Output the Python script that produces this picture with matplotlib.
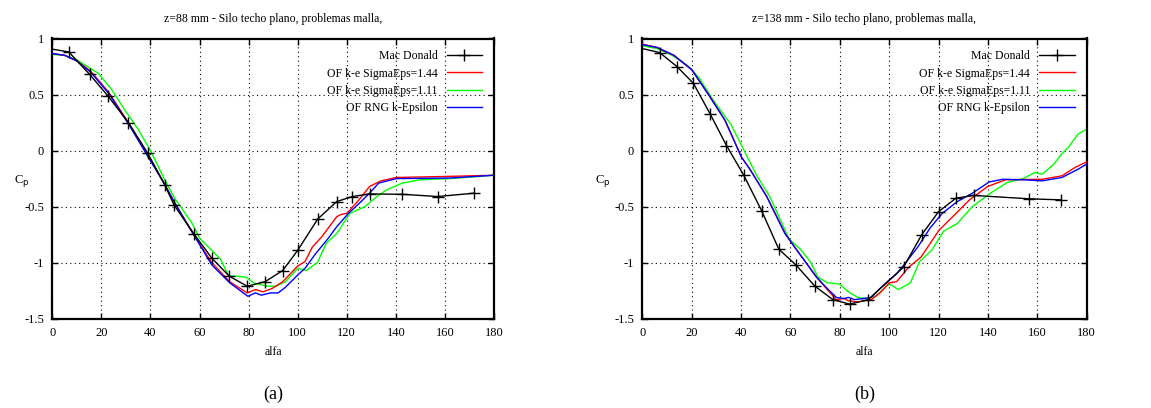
import matplotlib
matplotlib.use("Agg")
import matplotlib.pyplot as plt

plt.rcParams['font.family'] = ['Liberation Serif', 'DejaVu Serif']

# ---------------- data: panel (a) z=88 mm ----------------
a_mac_x = [0, 6.7, 15.2, 22.6, 31, 38.8, 45.9, 49.6, 57.6, 65, 72.1, 79.4, 86.7, 93.9, 100, 108.2, 115.9, 122.3, 129.3, 142.7, 157, 172]
a_mac_y = [0.905, 0.88, 0.68, 0.49, 0.25, -0.02, -0.31, -0.485, -0.74, -0.96, -1.12, -1.21, -1.17, -1.07, -0.89, -0.61, -0.455, -0.41, -0.387, -0.39, -0.41, -0.38]

a_red_x = [0, 5, 10, 15.6, 23, 31, 39.4, 45, 50, 57.6, 65, 72.3, 79.4, 82.8, 85.9, 89.6, 93.9, 100, 103, 106, 109.8, 115.9, 117.7, 120, 124.4, 129.3, 134, 140.2, 162, 180]
a_red_y = [0.866, 0.85, 0.80, 0.71, 0.52, 0.25, -0.06, -0.27, -0.47, -0.75, -1.0, -1.17, -1.27, -1.24, -1.26, -1.23, -1.17, -1.03, -0.99, -0.86, -0.77, -0.59, -0.57, -0.56, -0.455, -0.32, -0.27, -0.24, -0.23, -0.22]

a_grn_x = [0, 5, 10, 18.7, 24, 29.6, 35, 40, 46, 50, 57, 60, 64, 68.6, 71.9, 75, 79, 82, 87.6, 91.2, 95, 100, 103.6, 108, 111.6, 115.9, 121.3, 127.4, 132.3, 136.6, 142.7, 150, 162, 180]
a_grn_y = [0.857, 0.85, 0.81, 0.69, 0.55, 0.36, 0.19, 0.0, -0.27, -0.43, -0.65, -0.78, -0.87, -0.97, -1.12, -1.12, -1.13, -1.18, -1.21, -1.21, -1.17, -1.05, -1.07, -1.0, -0.83, -0.74, -0.56, -0.5, -0.41, -0.345, -0.29, -0.26, -0.25, -0.22]

a_blu_x = [0, 5, 10, 15.6, 23, 31, 39.4, 45, 50, 57.6, 65, 72.3, 79.7, 82.8, 85.2, 88.9, 92, 95, 100, 103, 107.3, 112.2, 115.9, 120.7, 124.4, 129.3, 133, 140.2, 162, 180]
a_blu_y = [0.866, 0.85, 0.80, 0.70, 0.51, 0.24, -0.07, -0.27, -0.47, -0.75, -1.02, -1.18, -1.30, -1.27, -1.29, -1.27, -1.27, -1.22, -1.11, -1.05, -0.92, -0.79, -0.68, -0.56, -0.485, -0.38, -0.29, -0.25, -0.245, -0.22]

# ---------------- data: panel (b) z=138 mm ----------------
b_mac_x = [0, 7, 14, 20.7, 27.4, 34.1, 41.1, 48.3, 55.3, 62.2, 69.9, 77.2, 84, 91.5, 105.8, 113.2, 120, 127, 134.2, 156.5, 169.7]
b_mac_y = [0.91, 0.875, 0.75, 0.60, 0.33, 0.045, -0.22, -0.535, -0.88, -1.02, -1.21, -1.33, -1.37, -1.33, -1.04, -0.75, -0.545, -0.425, -0.40, -0.43, -0.44]

b_red_x = [0, 6, 12.8, 20.1, 27.4, 33.5, 40.2, 43.7, 50.4, 57.8, 62, 66.3, 70.6, 74.9, 78.6, 81.7, 83.5, 87.2, 92.7, 96.3, 100, 103, 107.9, 112.9, 120.2, 126.4, 132.5, 139.9, 147.2, 162, 170, 175.3, 180]
b_red_y = [0.95, 0.92, 0.85, 0.72, 0.48, 0.27, -0.06, -0.17, -0.41, -0.74, -0.87, -1.0, -1.13, -1.24, -1.33, -1.32, -1.34, -1.35, -1.33, -1.27, -1.18, -1.17, -1.04, -0.95, -0.71, -0.575, -0.44, -0.32, -0.26, -0.256, -0.225, -0.15, -0.10]

b_grn_x = [0, 6, 12, 18.3, 23, 28.7, 36, 40.9, 46.3, 51.6, 59.5, 64, 68, 71.2, 74.9, 79.8, 83.5, 87.2, 90.8, 94.5, 100, 103.7, 108.6, 112.3, 117.2, 122, 127.6, 133.7, 141, 147.8, 154.6, 158.9, 162, 166.5, 169.9, 172.6, 176.6, 180]
b_grn_y = [0.935, 0.91, 0.85, 0.76, 0.65, 0.45, 0.23, 0.015, -0.22, -0.41, -0.79, -0.88, -0.99, -1.13, -1.18, -1.19, -1.26, -1.31, -1.32, -1.30, -1.19, -1.24, -1.18, -0.99, -0.89, -0.72, -0.65, -0.5, -0.38, -0.285, -0.247, -0.196, -0.21, -0.125, -0.03, 0.03, 0.15, 0.19]

b_blu_x = [0, 6, 12.8, 20.1, 27.4, 33.5, 40.2, 43.7, 50.4, 57.8, 62, 66.3, 70.6, 74.9, 78.6, 81.7, 83.5, 86, 89.6, 92.7, 96.3, 100, 103, 106.7, 111.6, 116.6, 121.5, 127.6, 133.7, 140.5, 146, 155.8, 162, 170, 176.6, 180]
b_blu_y = [0.946, 0.92, 0.85, 0.72, 0.48, 0.27, -0.06, -0.17, -0.41, -0.74, -0.87, -1.0, -1.13, -1.23, -1.31, -1.32, -1.31, -1.33, -1.32, -1.31, -1.23, -1.155, -1.10, -1.0, -0.86, -0.69, -0.56, -0.455, -0.38, -0.28, -0.256, -0.262, -0.27, -0.24, -0.165, -0.12]

titles = ["z=88 mm - Silo techo plano, problemas malla,",
          "z=138 mm - Silo techo plano, problemas malla,"]
sub_labels = ["(a)", "(b)"]
labels = ["Mac Donald", "OF k-e SigmaEps=1.44", "OF k-e SigmaEps=1.11", "OF RNG k-Epsilon"]
colors = ["black", "#ff0000", "#00ff00", "#0000ff"]
xticks = [0, 20, 40, 60, 80, 100, 120, 140, 160, 180]
yticks = [-1.5, -1, -0.5, 0, 0.5, 1]
ytick_labels = ["-1.5", "-1", "-0.5", "0", "0.5", "1"]

panels = [
    (a_mac_x, a_mac_y, a_red_x, a_red_y, a_grn_x, a_grn_y, a_blu_x, a_blu_y),
    (b_mac_x, b_mac_y, b_red_x, b_red_y, b_grn_x, b_grn_y, b_blu_x, b_blu_y),
]

W, H = 1151, 408
fig = plt.figure(figsize=(W / 100, H / 100), dpi=100)
ax_rects = [
    (52.3 / W, 1 - 318.7 / H, (494 - 52.3) / W, (318.7 - 38.5) / H),
    (642.3 / W, 1 - 318.7 / H, (1086.7 - 642.3) / W, (318.7 - 38.5) / H),
]
ylabel_x = [-0.07, -0.088]

for i, (rect, p) in enumerate(zip(ax_rects, panels)):
    ax = fig.add_axes(rect)
    mx, my, rx, ry, gx, gy, bx, by = p
    ax.plot(mx, my, color=colors[0], lw=1.0, marker='+', ms=8, mew=1.0,
            markevery=list(range(1, len(mx))), label=labels[0], zorder=5)
    ax.plot(rx, ry, color=colors[1], lw=1.0, label=labels[1], zorder=3)
    ax.plot(gx, gy, color=colors[2], lw=1.0, label=labels[2], zorder=2)
    ax.plot(bx, by, color=colors[3], lw=1.0, label=labels[3], zorder=4)
    ax.set_xlim(0, 180)
    ax.set_ylim(-1.5, 1)
    ax.set_xticks(xticks)
    ax.set_yticks(yticks)
    ax.set_yticklabels(ytick_labels)
    ax.grid(True, color='black', linestyle=(0, (1, 3)), linewidth=0.8)
    ax.tick_params(direction='in', top=True, right=True, length=4, width=1,
                   labelsize=9, pad=6)
    for s in ax.spines.values():
        s.set_linewidth(1.6)
    ax.set_title(titles[i], fontsize=8.5, pad=12)
    ax.set_xlabel("alfa", fontsize=8.5, labelpad=5)
    ax.set_ylabel("C$_\\mathrm{p}$", fontsize=9, rotation=0, va='center', ha='center')
    ax.yaxis.set_label_coords(ylabel_x[i], 0.49)
    ax.legend(loc='upper right', frameon=False, markerfirst=False,
              fontsize=8.5, handlelength=3.0, labelspacing=0.45,
              borderaxespad=0.6, handletextpad=0.8)
    ax.text(0.5, -0.27, sub_labels[i], transform=ax.transAxes, ha='center',
            va='center', fontsize=13)

fig.savefig("out.png", dpi=100)
